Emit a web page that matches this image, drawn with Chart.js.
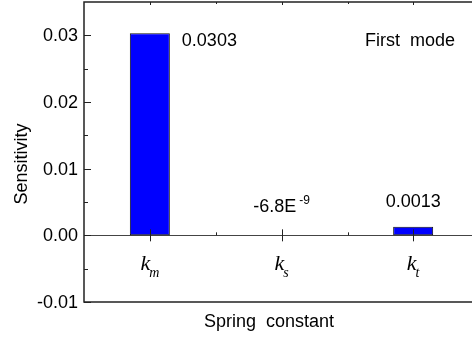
<!DOCTYPE html>
<html>
<head>
<meta charset="utf-8">
<script src="https://cdn.jsdelivr.net/npm/chart.js@4/dist/chart.umd.min.js"></script>
<style>
  html, body { margin: 0; padding: 0; background: #fff; overflow: hidden; }
  #wrap { width: 480px; height: 339px; }
</style>
</head>
<body>
<div id="wrap"><canvas id="sens-chart" width="480" height="339"></canvas></div>
<script>
// datos
const categories = ['km', 'ks', 'kt'];
const subscripts = ['m', 's', 't'];
const sensitivity = [0.0303, -6.8e-9, 0.0013];
const valueLabels = ['0.0303', '-6.8E', '0.0013'];
const valueExponents = ['', '-9', ''];
const yTicks = [-0.01, 0.00, 0.01, 0.02, 0.03];
const yMinorTicks = [-0.005, 0.005, 0.015, 0.025];
const yTitle = 'Sensitivity';
const xTitle = 'Spring  constant';
const note = 'First  mode';

const SANS = '"Liberation Sans", Arial, sans-serif';
const SERIF = '"Liberation Serif", "Times New Roman", serif';

const framePlugin = {
    id: 'frame',
    beforeDatasetsDraw(chart) {
        const { ctx, chartArea: a, scales: { y } } = chart;
        const y0 = Math.round(y.getPixelForValue(0)) + 0.5;
        ctx.save();
        ctx.strokeStyle = '#444';
        ctx.lineWidth = 1;
        ctx.beginPath();
        ctx.moveTo(a.left, y0);
        ctx.lineTo(a.right, y0);
        ctx.stroke();
        ctx.restore();
    },
    afterDraw(chart) {
        const { ctx, chartArea: a, scales: { x, y } } = chart;
        ctx.save();
        ctx.strokeStyle = '#222';
        ctx.lineWidth = 1.5;
        // marco
        ctx.beginPath();
        ctx.moveTo(a.right + 2, a.top);
        ctx.lineTo(a.left, a.top);
        ctx.lineTo(a.left, a.bottom);
        ctx.lineTo(a.right + 2, a.bottom);
        ctx.stroke();

        // marcas del eje y
        ctx.lineWidth = 1;
        yTicks.concat(yMinorTicks).forEach(v => {
            const py = Math.round(y.getPixelForValue(v)) + 0.5;
            const len = yTicks.includes(v) ? 7 : 4;
            ctx.beginPath();
            ctx.moveTo(a.left, py);
            ctx.lineTo(a.left + len, py);
            ctx.stroke();
        });

        // marcas del eje x (sobre la linea cero y arriba)
        const y0 = y.getPixelForValue(0);
        const step = x.getPixelForValue(1) - x.getPixelForValue(0);
        categories.forEach((c, i) => {
            const px = Math.round(x.getPixelForValue(i)) + 0.5;
            ctx.beginPath();
            ctx.moveTo(px, y0 - 6);
            ctx.lineTo(px, y0 + 6);
            ctx.moveTo(px, a.top);
            ctx.lineTo(px, a.top + 3);
            ctx.stroke();
            const mx = Math.round(px + step / 2) + 0.5;
            ctx.beginPath();
            ctx.moveTo(mx, y0 - 3);
            ctx.lineTo(mx, y0);
            ctx.moveTo(mx, a.top);
            ctx.lineTo(mx, a.top + 2);
            ctx.stroke();
        });

        ctx.fillStyle = '#000';
        // etiquetas del eje y
        ctx.font = '18px ' + SANS;
        ctx.textAlign = 'right';
        ctx.textBaseline = 'middle';
        yTicks.forEach(v => {
            ctx.fillText(v.toFixed(2), a.left - 6, y.getPixelForValue(v) + 1);
        });

        // etiquetas de categoria k_m, k_s, k_t
        categories.forEach((c, i) => {
            const px = x.getPixelForValue(i);
            ctx.font = 'italic 22px ' + SERIF;
            const kw = ctx.measureText('k').width;
            ctx.font = 'italic 14px ' + SERIF;
            const sw = ctx.measureText(subscripts[i]).width;
            const start = px - (kw + sw - 1) / 2;
            ctx.textAlign = 'left';
            ctx.textBaseline = 'alphabetic';
            ctx.font = 'italic 22px ' + SERIF;
            ctx.fillText('k', start, y0 + 35);
            ctx.font = 'italic 14px ' + SERIF;
            ctx.fillText(subscripts[i], start + kw - 1, y0 + 42);
        });

        // valores de las barras
        ctx.font = '18px ' + SANS;
        ctx.textBaseline = 'alphabetic';
        sensitivity.forEach((v, i) => {
            const px = x.getPixelForValue(i);
            const top = y.getPixelForValue(Math.max(v, 0));
            if (i === 0) {
                const bar = chart.getDatasetMeta(0).data[0];
                ctx.textAlign = 'left';
                ctx.fillText(valueLabels[i], bar.x + bar.width / 2 + 12, top + 13);
                return;
            }
            ctx.font = '18px ' + SANS;
            const w = ctx.measureText(valueLabels[i]).width;
            ctx.font = '12px ' + SANS;
            const ew = valueExponents[i] ? ctx.measureText(valueExponents[i]).width + 3 : 0;
            const start = px - (w + ew) / 2;
            ctx.textAlign = 'left';
            ctx.font = '18px ' + SANS;
            ctx.fillText(valueLabels[i], start, top - (valueExponents[i] ? 23 : 20));
            if (valueExponents[i]) {
                ctx.font = '12px ' + SANS;
                ctx.fillText(valueExponents[i], start + w + 3, top - 31);
            }
        });

        // texto "First mode"
        ctx.font = '18px ' + SANS;
        ctx.textAlign = 'left';
        ctx.fillText(note, 365, 46);

        // titulos
        ctx.textAlign = 'center';
        ctx.fillText(xTitle, 269, 327);
        ctx.save();
        ctx.translate(27, 164);
        ctx.rotate(-Math.PI / 2);
        ctx.fillText(yTitle, 0, 0);
        ctx.restore();

        ctx.restore();
    }
};

const canvas = document.getElementById('sens-chart');
const data = {
    labels: categories,
    datasets: [{
        data: sensitivity,
        backgroundColor: '#0000ff',
        borderColor: '#111',
        borderWidth: 1,
        borderSkipped: false,
        barPercentage: 0.304,
        categoryPercentage: 1.0,
    }]
};
const config = {
    type: 'bar',
    data: data,
    options: {
        responsive: false,
        animation: false,
        layout: {
            padding: { left: 84, top: 2, right: 1, bottom: 37 }
        },
        plugins: {
            legend: { display: false },
            tooltip: { enabled: false },
        },
        scales: {
            x: {
                display: false,
                offset: true,
            },
            y: {
                display: false,
                min: -0.01,
                max: 0.035,
            },
        },
    },
    plugins: [framePlugin],
};
const sensChart = new Chart(canvas, config);
</script>
</body>
</html>
